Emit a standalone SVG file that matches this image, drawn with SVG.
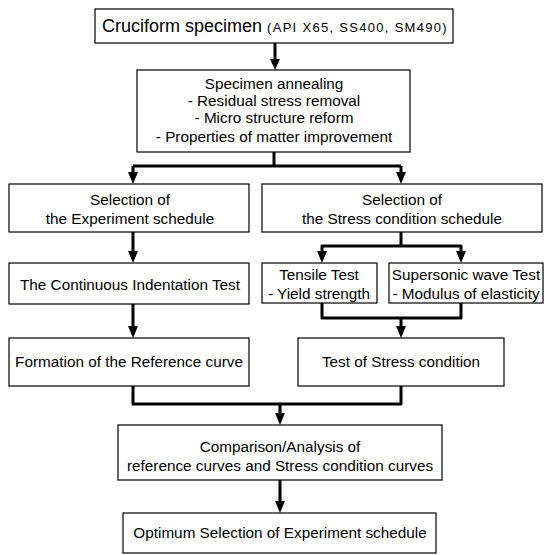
<svg xmlns="http://www.w3.org/2000/svg" width="544" height="555" viewBox="0 0 544 555">
<style>
.box{fill:#fff;stroke:#000;stroke-width:1.2}
.t{font-family:"Liberation Sans",Arial,sans-serif;font-size:15.3px;fill:#000;text-anchor:middle}
.c{fill:none;stroke:#000;stroke-width:3;stroke-linejoin:round}
</style>
<rect width="544" height="555" fill="#fff"/>
<g id="connectors">
<path class="c" d="M275,43 V60"/>
<path d="M270,59 L280,59 L275,70 Z"/>
<path class="c" d="M274,152 V166 M133,166 H401 M133,166 V172 M401,166 V172"/>
<path d="M128,172 L138,172 L133,184 Z"/>
<path d="M396,172 L406,172 L401,184 Z"/>
<path class="c" d="M133,232 V252"/>
<path d="M128,251 L138,251 L133,263 Z"/>
<path class="c" d="M133,304 V327"/>
<path d="M128,326 L138,326 L133,338 Z"/>
<path class="c" d="M401,232 V246 M322,252 V246 H461 V252"/>
<path d="M317,251 L327,251 L322,263 Z"/>
<path d="M456,251 L466,251 L461,263 Z"/>
<path class="c" d="M322,303 V318 H461 V303 M401,318 V327"/>
<path d="M396,326 L406,326 L401,338 Z"/>
<path class="c" d="M133,386 V404 H401 V386 M280,404 V414"/>
<path d="M275,413 L285,413 L280,425 Z"/>
<path class="c" d="M280,480 V502"/>
<path d="M275,501 L285,501 L280,513 Z"/>
</g>
<g id="n1">
<rect class="box" x="95" y="9" width="358" height="34"/>
<text class="t" x="102" y="32" style="text-anchor:start;font-size:18px">Cruciform specimen <tspan style="font-size:13px;letter-spacing:1.3px">(API X65, SS400, SM490)</tspan></text>
</g>
<g id="n2">
<rect class="box" x="137" y="70" width="273" height="82"/>
<text class="t" x="274" y="89">Specimen annealing</text>
<text class="t" x="274" y="106">- Residual stress removal</text>
<text class="t" x="274" y="123">-  Micro structure reform</text>
<text class="t" x="274" y="142">-  Properties of matter improvement</text>
</g>
<g id="n3">
<rect class="box" x="9" y="184" width="240" height="48"/>
<text class="t" x="130" y="205">Selection of</text>
<text class="t" x="130" y="224">the Experiment schedule</text>
</g>
<g id="n4">
<rect class="box" x="262" y="184" width="280" height="48"/>
<text class="t" x="402" y="205">Selection of</text>
<text class="t" x="402" y="224">the Stress condition schedule</text>
</g>
<g id="n5">
<rect class="box" x="9" y="263" width="240" height="41"/>
<text class="t" x="130" y="290">The Continuous Indentation Test</text>
</g>
<g id="n6">
<rect class="box" x="262" y="263" width="115" height="40"/>
<text class="t" x="319" y="280">Tensile Test</text>
<text class="t" x="319" y="299">- Yield strength</text>
</g>
<g id="n7">
<rect class="box" x="389" y="263" width="154" height="40"/>
<text class="t" x="466" y="280">Supersonic wave Test</text>
<text class="t" x="466" y="299">- Modulus of elasticity</text>
</g>
<g id="n8">
<rect class="box" x="9" y="338" width="240" height="48"/>
<text class="t" x="129" y="367">Formation of the Reference curve</text>
</g>
<g id="n9">
<rect class="box" x="298" y="338" width="206" height="48"/>
<text class="t" x="401" y="367">Test of Stress condition</text>
</g>
<g id="n10">
<rect class="box" x="118" y="425" width="324" height="55"/>
<text class="t" x="280" y="452">Comparison/Analysis of</text>
<text class="t" x="280" y="471">reference curves and Stress condition curves</text>
</g>
<g id="n11">
<rect class="box" x="123" y="513" width="313" height="40"/>
<text class="t" x="280" y="538">Optimum Selection of Experiment schedule</text>
</g>
</svg>
